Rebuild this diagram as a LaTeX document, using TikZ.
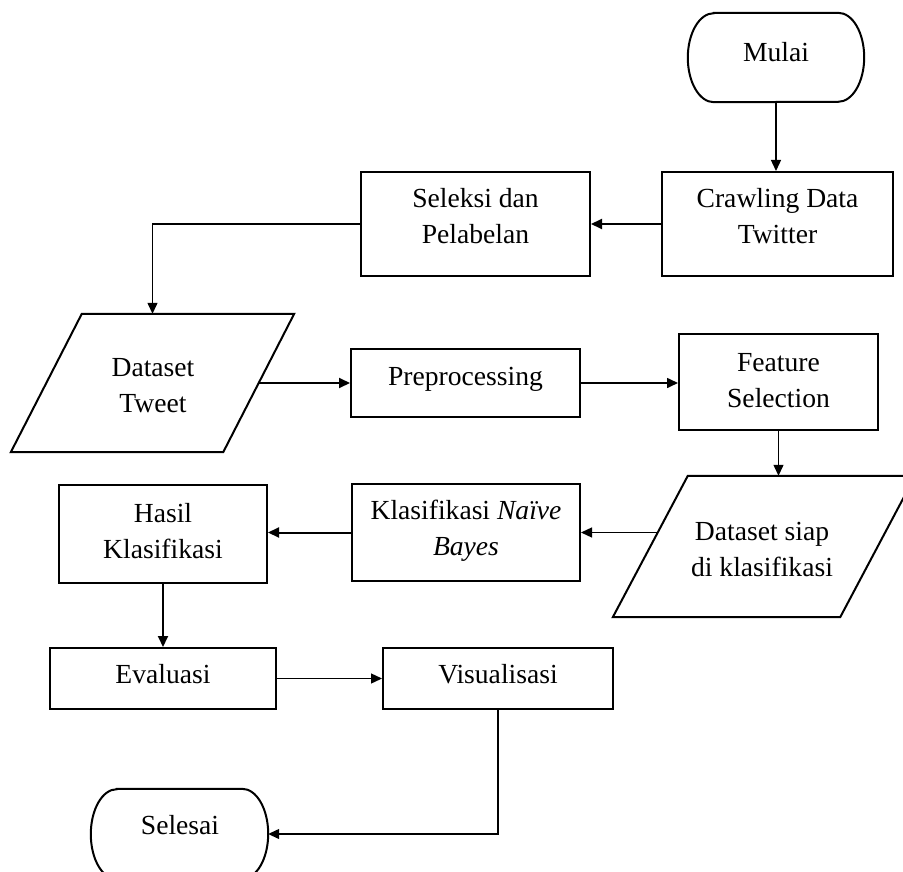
\documentclass[tikz,border=0pt]{standalone}
\usepackage{fontspec}
\setmainfont{Liberation Serif}
\usetikzlibrary{arrows.meta,calc}
\begin{document}
\begin{tikzpicture}[x=1pt,y=-1pt,
  box/.style={draw, line width=2pt, rectangle, inner sep=0pt},
  ghost/.style={rectangle, inner sep=0pt},
  para/.style={line width=2pt, line join=miter},
  txt/.style={align=center, inner sep=0pt, font=\fontsize{27.6}{36}\selectfont},
  arr/.style={line width=1.3pt, -{Triangle[length=11pt,width=10pt]}},
  arrthick/.style={arr, line width=2pt},
]
\useasboundingbox (0,0) rectangle (903,872);

% shapes
\node[ghost, minimum width=176pt, minimum height=89pt] (mulai) at (776,57.5) {};
\draw[para] ([xshift=26pt]mulai.north west) -- ([xshift=-26pt]mulai.north east)
  arc[start angle=90, end angle=-90, x radius=26pt, y radius=44.5pt]
  -- ([xshift=26pt]mulai.south west)
  arc[start angle=270, end angle=90, x radius=26pt, y radius=44.5pt] -- cycle;
\node[box, minimum width=231pt, minimum height=104pt] (crawl) at (777.5,224) {};
\node[box, minimum width=229pt, minimum height=104pt] (seleksi) at (475.5,224) {};
\node[ghost, minimum width=212pt, minimum height=138pt] (dtweet) at (152.5,383) {};
\draw[para] ([xshift=35.5pt]dtweet.north west) -- ([xshift=35.5pt]dtweet.north east)
  -- ([xshift=-35.5pt]dtweet.south east) -- ([xshift=-35.5pt]dtweet.south west) -- cycle;
\node[box, minimum width=229pt, minimum height=68pt] (prep) at (465.5,383) {};
\node[box, minimum width=199pt, minimum height=96pt] (feat) at (778.5,382) {};
\node[ghost, minimum width=227pt, minimum height=141pt] (dsiap) at (764,546.5) {};
\draw[para] ([xshift=37.5pt]dsiap.north west) -- ([xshift=37.5pt]dsiap.north east)
  -- ([xshift=-37.5pt]dsiap.south east) -- ([xshift=-37.5pt]dsiap.south west) -- cycle;
\node[box, minimum width=228pt, minimum height=97pt] (klas) at (466,532.5) {};
\node[box, minimum width=208pt, minimum height=98pt] (hasil) at (163,534) {};
\node[box, minimum width=226pt, minimum height=61pt] (eval) at (163,678.5) {};
\node[box, minimum width=230pt, minimum height=61pt] (vis) at (498,678.5) {};
\node[ghost, minimum width=177pt, minimum height=90pt] (selesai) at (179.5,834) {};
\draw[para] ([xshift=26pt]selesai.north west) -- ([xshift=-26pt]selesai.north east)
  arc[start angle=90, end angle=-90, x radius=26pt, y radius=45pt]
  -- ([xshift=26pt]selesai.south west)
  arc[start angle=270, end angle=90, x radius=26pt, y radius=45pt] -- cycle;

% texts
\node[txt] (mulai-t) at (776,52) {Mulai};
\node[txt] (crawl-t) at (777.5,216.5) {Crawling Data\\Twitter};
\node[txt] (seleksi-t) at (475.5,216.5) {Seleksi dan\\Pelabelan};
\node[txt] (dtweet-t) at (153,386) {Dataset\\Tweet};
\node[txt] (prep-t) at (465.5,379) {Preprocessing};
\node[txt] (feat-t) at (778.5,380.5) {Feature\\Selection};
\node[txt] (dsiap-t) at (762,549.5) {Dataset siap\\di klasifikasi};
\node[txt] (klas-t) at (466,531) {Klasifikasi \textit{Naïve}\\\textit{Bayes}};
\node[txt] (hasil-t) at (163,531.5) {Hasil\\Klasifikasi};
\node[txt] (eval-t) at (163,674) {Evaluasi};
\node[txt] (vis-t) at (498,674) {Visualisasi};
\node[txt] (selesai-t) at (180,825) {Selesai};

% connectors
\draw[arr] (mulai.south) -- (mulai.south |- crawl.north);
\draw[arrthick] (crawl.west) -- (seleksi.east);
\draw[arr] (seleksi.west) -| (dtweet.north);
\draw[arrthick] (dtweet.east) -- (prep.west);
\draw[arr, line width=1.6pt] (prep.east) -- (prep.east -| feat.west);
\draw[arr] (feat.south) -- (feat.south |- dsiap.north);
\draw[arr] ($(dsiap.west)+(7.4,-14)$) -- (klas.east);
\draw[arrthick] (klas.west) -- (klas.west -| hasil.east);
\draw[arrthick] (hasil.south) -- (eval.north);
\draw[arr] (eval.east) -- (vis.west);
\draw[arr] (vis.south) |- (selesai.east);
\end{tikzpicture}
\end{document}
